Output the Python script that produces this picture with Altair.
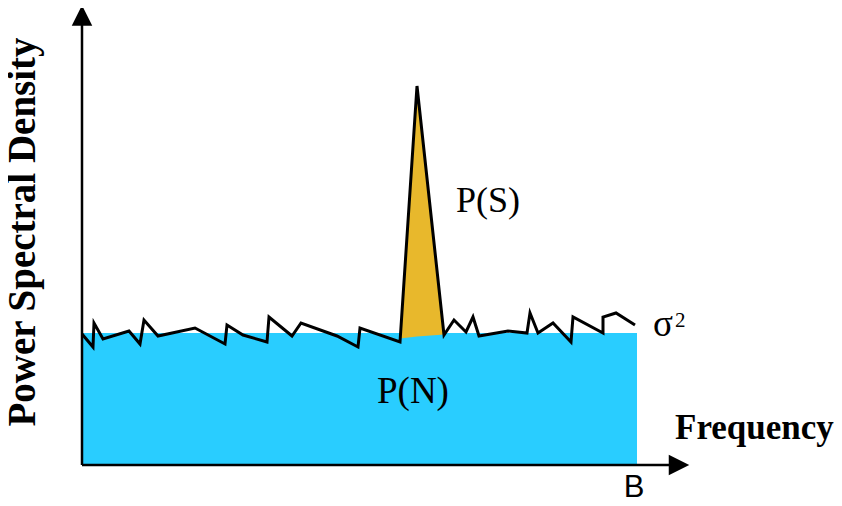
import altair as alt
import pandas as pd

# ---- data (diagram units: frequency to the right, PSD upward, origin at axis corner) ----
noise_f = [0, 11, 12, 21, 47, 58, 62, 76, 113, 143, 145, 161, 185, 187, 210, 219, 255,
           276, 278, 318, 335, 362, 372, 384, 391, 397, 426, 445, 448, 456, 471, 489,
           491, 521, 521, 534, 553]
noise_p = [131, 118, 142, 126, 134, 121, 145, 129, 137, 121, 140, 130, 123, 148, 129, 142,
           129, 118, 137, 123, 379, 130, 145, 133, 148, 129, 134, 132, 152, 132, 142, 123,
           148, 132, 148, 152, 140]

noise_floor = 132      # sigma^2 level
band_edge = 555        # B

signal_f = [318, 335, 362]
signal_top = [126.5, 379, 130.5]
signal_base = [126.5, 128.5, 130.5]

y_axis_top = 445
x_axis_end = 590

labels = ["Power Spectral Density", "Frequency", "P(S)", "P(N)", "σ", "2", "B"]
label_f = [-47, 593, 374, 295, 571, 593, 552]
label_p = [233, 26, 253, 62, 129, 138, -32]

BLUE = "#29CDFF"
GOLD = "#E8B82C"

xs = alt.Scale(domain=[-74, 752], nice=False, zero=False)
ys = alt.Scale(domain=[-33, 457], nice=False, zero=False)

def X(field):
    return alt.X(field, type="quantitative", scale=xs, axis=None)

def Y(field):
    return alt.Y(field, type="quantitative", scale=ys, axis=None)

# noise floor rectangle
rect_df = pd.DataFrame({"f0": [0], "f1": [band_edge], "p0": [0], "p1": [noise_floor]})
rect = alt.Chart(rect_df).mark_rect(color=BLUE).encode(
    x=X("f0"), x2="f1", y=Y("p0"), y2="p1")

# signal spike fill
sig_df = pd.DataFrame({"f": signal_f, "top": signal_top, "base": signal_base})
spike = alt.Chart(sig_df).mark_area(color=GOLD, opacity=1).encode(
    x=X("f"), y=Y("top"), y2="base")

# noise trace
noise_df = pd.DataFrame({"f": noise_f, "p": noise_p, "i": list(range(len(noise_f)))})
trace = alt.Chart(noise_df).mark_line(color="black", strokeWidth=3, strokeJoin="miter").encode(
    x=X("f"), y=Y("p"), order="i:Q")

# axes
yaxis_df = pd.DataFrame({"f": [0], "p0": [0], "p1": [y_axis_top]})
yaxis = alt.Chart(yaxis_df).mark_rule(color="black", strokeWidth=2.5).encode(
    x=X("f"), y=Y("p0"), y2="p1")
xaxis_df = pd.DataFrame({"f0": [0], "f1": [x_axis_end], "p": [0]})
xaxis = alt.Chart(xaxis_df).mark_rule(color="black", strokeWidth=2.5).encode(
    x=X("f0"), x2="f1", y=Y("p"))

up_df = pd.DataFrame({"f": [0], "p": [449.5]})
arrow_up = alt.Chart(up_df).mark_point(
    shape="M0,-1L-1,1L1,1Z", filled=True, size=420, color="black", opacity=1, strokeWidth=0
).encode(x=X("f"), y=Y("p"))
right_df = pd.DataFrame({"f": [597], "p": [0]})
arrow_right = alt.Chart(right_df).mark_point(
    shape="M1,0L-1,-1L-1,1Z", filled=True, size=420, color="black", opacity=1, strokeWidth=0
).encode(x=X("f"), y=Y("p"))

def label(i, **kw):
    df = pd.DataFrame({"t": [labels[i]], "f": [label_f[i]], "p": [label_p[i]]})
    return alt.Chart(df).mark_text(color="black", **kw).encode(
        x=X("f"), y=Y("p"), text="t:N")

t_psd = label(0, font="Liberation Serif", fontWeight="bold", fontSize=39, angle=270,
              align="center", baseline="alphabetic")
t_freq = label(1, font="Liberation Serif", fontWeight="bold", fontSize=35,
               align="left", baseline="alphabetic")
t_ps = label(2, font="Liberation Serif", fontSize=36, align="left", baseline="alphabetic")
t_pn = label(3, font="Liberation Serif", fontSize=37, align="left", baseline="alphabetic")
t_sig = label(4, font="Liberation Serif", fontSize=37, align="left", baseline="alphabetic")
t_two = label(5, font="Liberation Serif", fontSize=21, align="left", baseline="alphabetic")
t_b = label(6, font="Liberation Sans", fontSize=31, align="center", baseline="alphabetic")

chart = alt.layer(
    rect, spike, trace, yaxis, xaxis, arrow_up, arrow_right,
    t_psd, t_freq, t_ps, t_pn, t_sig, t_two, t_b
).properties(
    width=826, height=490, padding=0, background="white",
    autosize=alt.AutoSizeParams(type="none"),
).configure_view(stroke=None)

chart.save("out.html", embed_options={"renderer": "svg", "actions": False})
